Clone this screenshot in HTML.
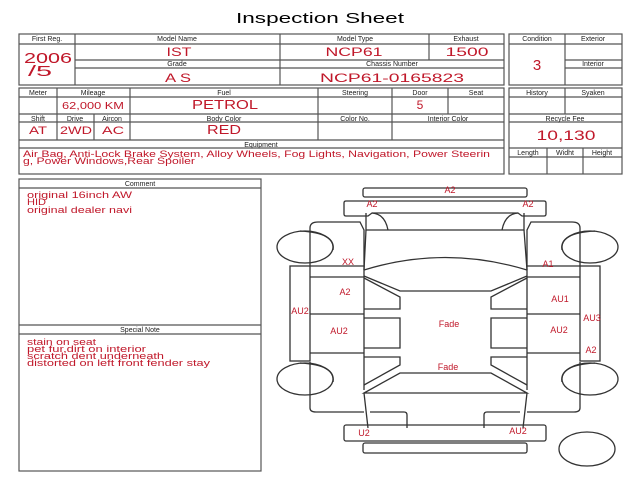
<!DOCTYPE html>
<html><head><meta charset="utf-8"><style>
body{margin:0;background:#fff;}
svg{display:block;font-family:"Liberation Sans",sans-serif;}
.l{font-size:7px;fill:#222;text-anchor:middle}
.r{fill:#c0182a;text-anchor:middle}
.c{fill:#c0182a;font-size:9px}
.d{fill:#c0182a;font-size:9px;text-anchor:middle}
</style></head><body>
<svg width="640" height="480" viewBox="0 0 640 480">
<text x="320" y="23" font-size="15" text-anchor="middle" fill="#000" textLength="168" lengthAdjust="spacingAndGlyphs">Inspection Sheet</text>
<g fill="none" stroke="#555" stroke-width="1.2">
<rect x="19" y="34" width="485" height="51"/>
<line x1="75" y1="34" x2="75" y2="85"/><line x1="280" y1="34" x2="280" y2="85"/><line x1="429" y1="34" x2="429" y2="60"/>
<line x1="75" y1="44" x2="504" y2="44"/><line x1="75" y1="60" x2="504" y2="60"/><line x1="75" y1="68" x2="504" y2="68"/>
<line x1="19" y1="44" x2="75" y2="44"/>
<rect x="509" y="34" width="113" height="51"/>
<line x1="565" y1="34" x2="565" y2="85"/><line x1="509" y1="44" x2="622" y2="44"/><line x1="565" y1="60" x2="622" y2="60"/><line x1="565" y1="68" x2="622" y2="68"/>
<rect x="19" y="88" width="485" height="86"/>
<line x1="19" y1="97" x2="504" y2="97"/><line x1="19" y1="114" x2="504" y2="114"/><line x1="19" y1="122" x2="504" y2="122"/><line x1="19" y1="140" x2="504" y2="140"/><line x1="19" y1="148" x2="504" y2="148"/>
<line x1="57" y1="88" x2="57" y2="140"/><line x1="130" y1="88" x2="130" y2="140"/><line x1="318" y1="88" x2="318" y2="140"/><line x1="392" y1="88" x2="392" y2="140"/><line x1="448" y1="88" x2="448" y2="114"/><line x1="94" y1="114" x2="94" y2="140"/>
<rect x="509" y="88" width="113" height="86"/>
<line x1="565" y1="88" x2="565" y2="114"/><line x1="509" y1="97" x2="622" y2="97"/><line x1="509" y1="114" x2="622" y2="114"/><line x1="509" y1="122" x2="622" y2="122"/><line x1="509" y1="148" x2="622" y2="148"/><line x1="509" y1="157" x2="622" y2="157"/><line x1="547" y1="148" x2="547" y2="174"/><line x1="583" y1="148" x2="583" y2="174"/>
<rect x="19" y="179" width="242" height="292"/>
<line x1="19" y1="188" x2="261" y2="188"/><line x1="19" y1="325" x2="261" y2="325"/><line x1="19" y1="334" x2="261" y2="334"/>
</g>
<g class="l">
<text x="47" y="41">First Reg.</text><text x="177" y="41">Model Name</text><text x="355" y="41">Model Type</text><text x="466" y="41">Exhaust</text>
<text x="177" y="66">Grade</text><text x="392" y="66">Chassis Number</text>
<text x="537" y="41">Condition</text><text x="593" y="41">Exterior</text><text x="593" y="66">Interior</text>
<text x="38" y="95">Meter</text><text x="93" y="95">Mileage</text><text x="224" y="95">Fuel</text><text x="355" y="95">Steering</text><text x="420" y="95">Door</text><text x="476" y="95">Seat</text>
<text x="38" y="121">Shift</text><text x="75" y="121">Drive</text><text x="112" y="121">Aircon</text><text x="224" y="121">Body Color</text><text x="355" y="121">Color No.</text><text x="448" y="121">Interior Color</text>
<text x="261" y="147">Equipment</text>
<text x="537" y="95">History</text><text x="593" y="95">Syaken</text><text x="565" y="121">Recycle Fee</text>
<text x="528" y="155">Length</text><text x="565" y="155">Widht</text><text x="602" y="155">Height</text>
<text x="140" y="186">Comment</text><text x="140" y="332">Special Note</text>
</g>
<g class="r">
<text x="48" y="63" font-size="15" textLength="48" lengthAdjust="spacingAndGlyphs">2006</text><text x="40" y="76" font-size="15" textLength="24" lengthAdjust="spacingAndGlyphs">/5</text>
<text x="179" y="56" font-size="12" textLength="25" lengthAdjust="spacingAndGlyphs">IST</text><text x="178" y="82" font-size="12" textLength="26" lengthAdjust="spacingAndGlyphs">A S</text>
<text x="354" y="56" font-size="12" textLength="57" lengthAdjust="spacingAndGlyphs">NCP61</text><text x="467" y="56" font-size="12" textLength="43" lengthAdjust="spacingAndGlyphs">1500</text>
<text x="392" y="82" font-size="12" textLength="144" lengthAdjust="spacingAndGlyphs">NCP61-0165823</text>
<text x="537" y="70" font-size="15">3</text>
<text x="93" y="109" font-size="10" textLength="62" lengthAdjust="spacingAndGlyphs">62,000 KM</text><text x="225" y="109" font-size="13" textLength="66" lengthAdjust="spacingAndGlyphs">PETROL</text><text x="420" y="109" font-size="12">5</text>
<text x="38" y="134" font-size="11" textLength="18" lengthAdjust="spacingAndGlyphs">AT</text><text x="76" y="134" font-size="11" textLength="32" lengthAdjust="spacingAndGlyphs">2WD</text><text x="113" y="134" font-size="11" textLength="22" lengthAdjust="spacingAndGlyphs">AC</text><text x="224" y="134" font-size="13" textLength="34" lengthAdjust="spacingAndGlyphs">RED</text>
<text x="566" y="140" font-size="14" textLength="59" lengthAdjust="spacingAndGlyphs">10,130</text>
</g>
<text x="23" y="157" class="c" font-size="9.5" textLength="467" lengthAdjust="spacingAndGlyphs">Air Bag, Anti-Lock Brake System, Alloy Wheels, Fog Lights, Navigation, Power Steerin</text>
<text x="23" y="164" class="c" font-size="9.5" textLength="172" lengthAdjust="spacingAndGlyphs">g, Power Windows,Rear Spoiler</text>
<text x="27" y="198" class="c" textLength="105" lengthAdjust="spacingAndGlyphs">original 16inch AW</text>
<text x="27" y="205" class="c" textLength="19" lengthAdjust="spacingAndGlyphs">HID</text>
<text x="27" y="213" class="c" textLength="105" lengthAdjust="spacingAndGlyphs">original dealer navi</text>
<text x="27" y="345" class="c" textLength="69" lengthAdjust="spacingAndGlyphs">stain on seat</text>
<text x="27" y="352" class="c" textLength="119" lengthAdjust="spacingAndGlyphs">pet fur,dirt on interior</text>
<text x="27" y="359" class="c" textLength="137" lengthAdjust="spacingAndGlyphs">scratch dent underneath</text>
<text x="27" y="366" class="c" textLength="183" lengthAdjust="spacingAndGlyphs">distorted on left front fender stay</text>
<g fill="none" stroke="#333" stroke-width="1.3">
<rect x="363" y="188" width="164" height="9" rx="2"/>
<path d="M346 201 H544 Q546 201 546 203 V214 Q546 216 544 216 H522 L518 213 H372 L368 216 H346 Q344 216 344 214 V203 Q344 201 346 201 Z"/>
<path d="M366 213 V230 H524 V213 M372 213 Q385 214 388 230 M518 213 Q505 214 502 230"/>
<path d="M364 230 L360 222 H318 Q310 222 310 228 V266 H364 Z"/>
<path d="M527 230 L531 222 H572 Q580 222 580 228 V266 H527 Z"/>
<path d="M366 230 L364 270 M524 230 L527 270"/>
<path d="M364 270 Q445 245 527 270"/>
<path d="M364 276 L400 291 H491 L527 276"/>
<path d="M364 266 V390 M527 266 V390"/>
<path d="M364 277 H310 M364 314 H310 M364 353 H310 M527 277 H580 M527 314 H580 M527 353 H580"/>
<rect x="290" y="266" width="20" height="95"/><rect x="580" y="266" width="20" height="95"/>
<path d="M364 278 L400 297 V309 H364 M527 278 L491 297 V309 H527"/>
<path d="M364 318 H400 V348 H364 M527 318 H491 V348 H527"/>
<path d="M364 357 H400 V365 L364 385 M527 357 H491 V365 L527 385"/>
<path d="M400 373 H491 L527 393 H364 Z"/>
<path d="M310 362 V408 Q310 412 316 412 H364 M580 362 V408 Q580 412 574 412 H527"/>
<path d="M364 393 L368 428 M527 393 L523 428"/>
<path d="M370 412 H404 Q407 412 407 415 V428 M520 412 H487 Q484 412 484 415 V428"/>
<rect x="344" y="425" width="202" height="16" rx="2"/>
<rect x="363" y="443" width="164" height="10" rx="2"/>
<ellipse cx="305" cy="247" rx="28" ry="16"/><ellipse cx="305" cy="379" rx="28" ry="16"/>
<path d="M300 231 Q336 233 333 250"/><path d="M300 363 Q336 365 333 382"/>
<ellipse cx="590" cy="247" rx="28" ry="16"/><ellipse cx="590" cy="379" rx="28" ry="16"/>
<path d="M595 231 Q559 233 562 250"/><path d="M595 363 Q559 365 562 382"/>
<ellipse cx="587" cy="449" rx="28" ry="17"/>
</g>
<g class="d">
<text x="450" y="193">A2</text><text x="372" y="207">A2</text><text x="528" y="207">A2</text>
<text x="348" y="265">XX</text><text x="548" y="267">A1</text>
<text x="345" y="295">A2</text><text x="560" y="302">AU1</text>
<text x="300" y="314">AU2</text><text x="592" y="321">AU3</text>
<text x="339" y="334">AU2</text><text x="559" y="333">AU2</text>
<text x="449" y="327">Fade</text><text x="448" y="370">Fade</text>
<text x="591" y="353">A2</text>
<text x="364" y="436">U2</text><text x="518" y="434">AU2</text>
</g>
</svg>
</body></html>
